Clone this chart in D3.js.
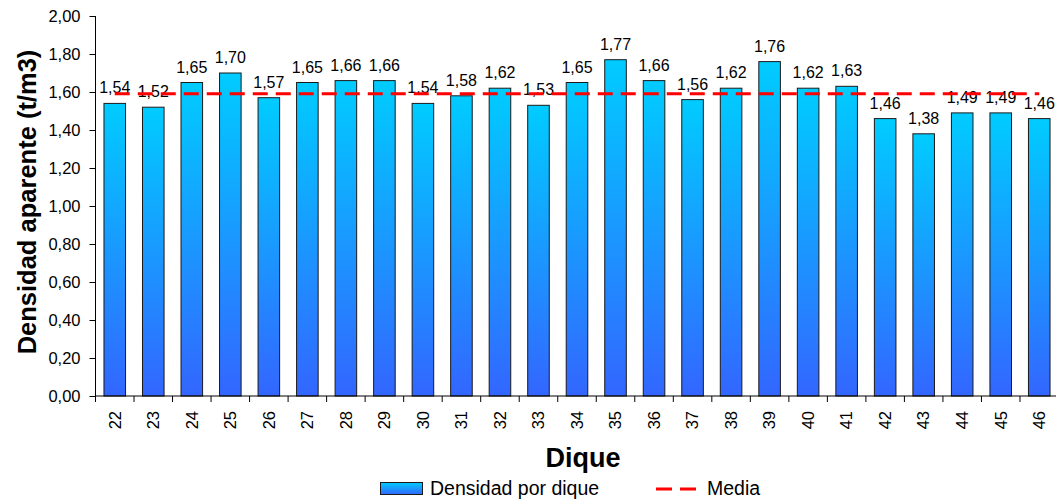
<!DOCTYPE html>
<html>
<head>
<meta charset="utf-8">
<script src="https://cdn.jsdelivr.net/npm/d3@7"></script>
<style>
  html, body { margin: 0; padding: 0; background: #fff; }
  svg { display: block; font-family: Arial, "Liberation Sans", sans-serif; }
</style>
</head>
<body>
<svg id="chart" width="1056" height="499"></svg>
<script>
// Dique numbers and apparent density (t/m3)
const diques = ["22","23","24","25","26","27","28","29","30","31","32","33","34","35","36","37","38","39","40","41","42","43","44","45","46"];
const densidad = [1.54,1.52,1.65,1.70,1.57,1.65,1.66,1.66,1.54,1.58,1.62,1.53,1.65,1.77,1.66,1.56,1.62,1.76,1.62,1.63,1.46,1.38,1.49,1.49,1.46];
const yTicks = [0,0.2,0.4,0.6,0.8,1.0,1.2,1.4,1.6,1.8,2.0];
const media = d3.mean(densidad);

const fmt = v => v.toFixed(2).replace(".", ",");

const svg = d3.select("#chart");
const plot = { left: 95.5, right: 1058.5, top: 16, bottom: 396 };

const x = d3.scaleBand().domain(diques).range([plot.left, plot.right]).paddingInner(0.44).paddingOuter(0.22);
const y = d3.scaleLinear().domain([0, 2]).range([plot.bottom, plot.top]);
const step = x.step();

// vertical gradient used by each bar and the legend swatch
const defs = svg.append("defs");
const grad = defs.append("linearGradient").attr("id", "barFill")
  .attr("x1", 0).attr("y1", 0).attr("x2", 0).attr("y2", 1);
grad.append("stop").attr("offset", "0%").attr("stop-color", "#00CCFF");
grad.append("stop").attr("offset", "100%").attr("stop-color", "#3366FF");

// bars
svg.append("g").selectAll("rect").data(densidad).join("rect")
  .attr("x", (d, i) => x(diques[i]))
  .attr("y", d => y(d))
  .attr("width", x.bandwidth())
  .attr("height", d => y(0) - y(d))
  .attr("fill", "url(#barFill)")
  .attr("stroke", "#1a1a1a")
  .attr("stroke-width", 1);

// value labels
svg.append("g").selectAll("text").data(densidad).join("text")
  .attr("x", (d, i) => x(diques[i]) + x.bandwidth() / 2)
  .attr("y", d => y(d) - 10)
  .attr("text-anchor", "middle")
  .attr("font-size", "16px")
  .attr("fill", "#000")
  .text(d => fmt(d));

// mean line across bar centres
const cx = i => x(diques[i]) + x.bandwidth() / 2;
svg.append("line")
  .attr("x1", cx(0)).attr("x2", cx(diques.length - 1))
  .attr("y1", y(media)).attr("y2", y(media))
  .attr("stroke", "#FF0000").attr("stroke-width", 3)
  .attr("stroke-dasharray", "15,8");

// y axis
const yAxis = svg.append("g")
  .attr("transform", `translate(${plot.left},0)`)
  .call(d3.axisLeft(y).tickValues(yTicks).tickFormat(fmt).tickSize(6).tickPadding(9));
yAxis.select(".domain").attr("d", `M0,${plot.bottom}V${plot.top}`).attr("stroke", "#000");
yAxis.selectAll("text").attr("font-size", "16.5px").attr("fill", "#000").attr("font-family", "Arial, 'Liberation Sans', sans-serif");
yAxis.selectAll("line").attr("stroke", "#000");

// x axis: labels at band centres, ticks on band boundaries
const xAxis = svg.append("g")
  .attr("transform", `translate(0,${plot.bottom})`)
  .call(d3.axisBottom(x).tickSize(0).tickPadding(0));
xAxis.select(".domain").attr("d", `M${plot.left},0H${plot.right}`).attr("stroke", "#000");
xAxis.selectAll(".tick text")
  .attr("transform", "rotate(-90)")
  .attr("text-anchor", "end")
  .attr("x", -15)
  .attr("y", 0)
  .attr("dy", "0.35em")
  .attr("font-size", "16.5px")
  .attr("fill", "#000")
  .attr("font-family", "Arial, 'Liberation Sans', sans-serif");
xAxis.append("g").selectAll("line").data(d3.range(diques.length + 1)).join("line")
  .attr("x1", i => plot.left + i * step).attr("x2", i => plot.left + i * step)
  .attr("y1", 0).attr("y2", 6)
  .attr("stroke", "#000");

// axis titles
svg.append("text")
  .attr("transform", "translate(36,202) rotate(-90)")
  .attr("text-anchor", "middle")
  .attr("font-size", "25.5px")
  .attr("font-weight", "bold")
  .text("Densidad aparente (t/m3)");

svg.append("text")
  .attr("x", 583).attr("y", 467)
  .attr("text-anchor", "middle")
  .attr("font-size", "27px")
  .attr("font-weight", "bold")
  .text("Dique");

// legend
const lg = svg.append("g");
lg.append("rect").attr("x", 380.5).attr("y", 482.5).attr("width", 42).attr("height", 12)
  .attr("fill", "url(#barFill)").attr("stroke", "#1a1a1a");
lg.append("text").attr("x", 430).attr("y", 495).attr("font-size", "19.5px").text("Densidad por dique");
lg.append("line").attr("x1", 656).attr("x2", 696).attr("y1", 489).attr("y2", 489)
  .attr("stroke", "#FF0000").attr("stroke-width", 3).attr("stroke-dasharray", "16,8");
lg.append("text").attr("x", 707).attr("y", 495).attr("font-size", "19.5px").text("Media");
</script>
</body>
</html>
